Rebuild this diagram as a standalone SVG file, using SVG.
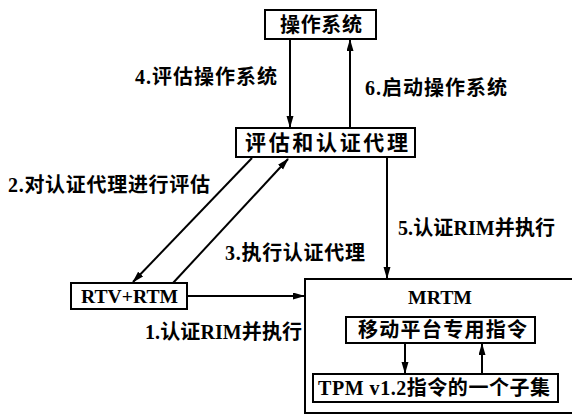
<svg xmlns="http://www.w3.org/2000/svg" width="572" height="417" viewBox="0 0 572 417">
<style>
.box{fill:#fff;stroke:#000;stroke-width:2}
.ln{fill:none;stroke:#000;stroke-width:2}
.t{font-family:"Liberation Serif","Noto Sans CJK SC",serif;font-weight:bold;fill:#000}
</style>
<defs>
<marker id="ah" markerUnits="userSpaceOnUse" markerWidth="12" markerHeight="8" refX="11" refY="3.5" orient="auto">
<path d="M0,0 L12,3.5 L0,7 z" fill="#000"/>
</marker>
</defs>
<rect width="572" height="417" fill="#fff"/>
<g id="mrtm">
<rect class="box" x="305" y="279" width="280" height="134"/>
<text class="t" x="408" y="304" font-size="19" textLength="64" lengthAdjust="spacingAndGlyphs">MRTM</text>
</g>
<g id="os">
<rect class="box" x="265" y="10" width="111" height="29"/>
<text class="t" x="280" y="32" font-size="20" textLength="82" lengthAdjust="spacing">操作系统</text>
</g>
<g id="agent">
<rect class="box" x="236" y="128" width="179" height="29"/>
<text class="t" x="245" y="150" font-size="21" textLength="163" lengthAdjust="spacing">评估和认证代理</text>
</g>
<g id="rtv">
<rect class="box" x="71" y="283" width="116" height="26"/>
<text class="t" x="81" y="303" font-size="19" textLength="97" lengthAdjust="spacingAndGlyphs">RTV+RTM</text>
</g>
<g id="mobile">
<rect class="box" x="346" y="317" width="189" height="26"/>
<text class="t" x="358" y="337" font-size="20" textLength="169" lengthAdjust="spacing">移动平台专用指令</text>
</g>
<g id="tpm">
<rect class="box" x="313" y="374" width="245" height="28"/>
<text class="t" x="318" y="395" font-size="20" textLength="232" lengthAdjust="spacing">TPM v1.2指令的一个子集</text>
</g>
<g id="connectors">
<line class="ln" x1="290" y1="39" x2="290" y2="127" marker-end="url(#ah)"/>
<line class="ln" x1="350" y1="128" x2="350" y2="40" marker-end="url(#ah)"/>
<line class="ln" x1="252" y1="158" x2="133" y2="282" marker-end="url(#ah)"/>
<line class="ln" x1="173" y1="283" x2="288" y2="159" marker-end="url(#ah)"/>
<line class="ln" x1="387" y1="158" x2="387" y2="278" marker-end="url(#ah)"/>
<line class="ln" x1="187" y1="296" x2="304" y2="296" marker-end="url(#ah)"/>
<line class="ln" x1="405" y1="344" x2="405" y2="373" marker-end="url(#ah)"/>
<line class="ln" x1="482" y1="373" x2="482" y2="344" marker-end="url(#ah)"/>
<text class="t" x="135" y="84" font-size="20" textLength="142" lengthAdjust="spacing">4.评估操作系统</text>
<text class="t" x="365" y="95" font-size="20" textLength="142" lengthAdjust="spacing">6.启动操作系统</text>
<text class="t" x="8" y="192" font-size="20" textLength="202" lengthAdjust="spacing">2.对认证代理进行评估</text>
<text class="t" x="225" y="260" font-size="20" textLength="140" lengthAdjust="spacing">3.执行认证代理</text>
<text class="t" x="398" y="235" font-size="20" textLength="157" lengthAdjust="spacing">5.认证RIM并执行</text>
<text class="t" x="145" y="339" font-size="20" textLength="157" lengthAdjust="spacing">1.认证RIM并执行</text>
</g>
</svg>
